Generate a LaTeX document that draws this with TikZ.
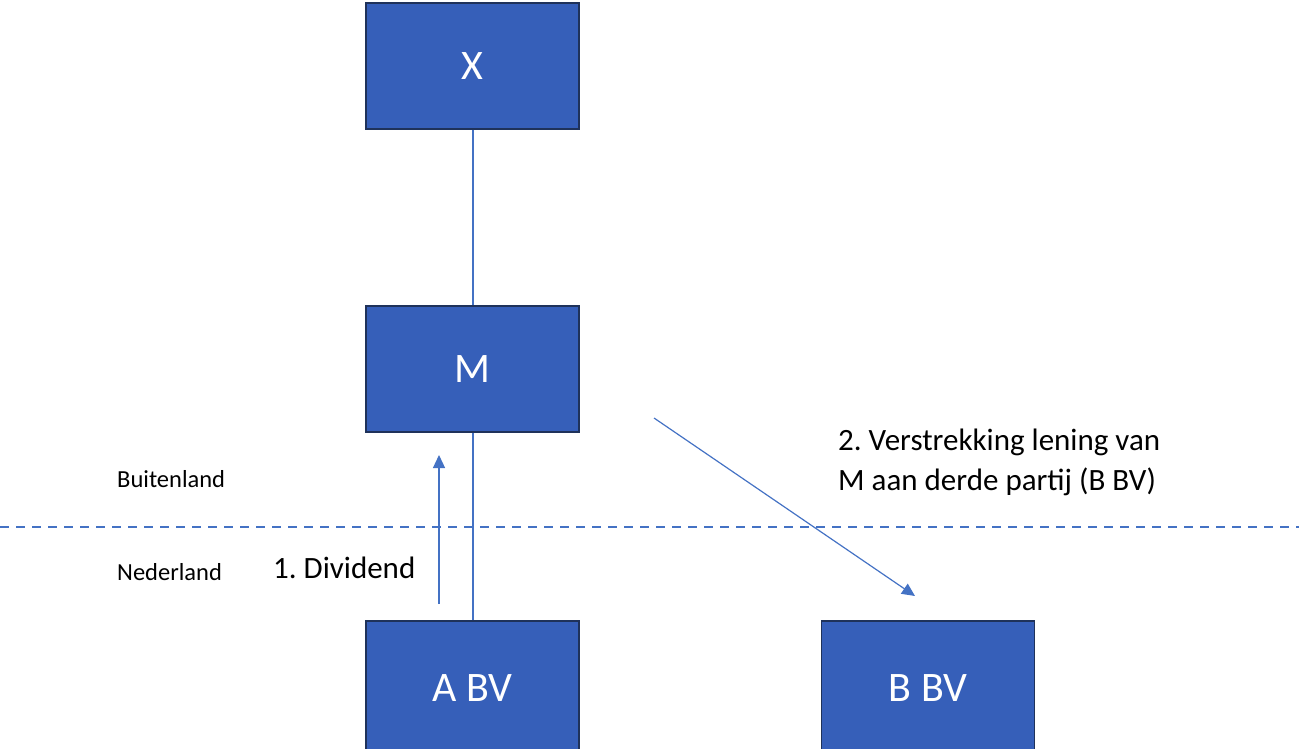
\documentclass[tikz,border=0pt]{standalone}
\usepackage{fontspec}
\setmainfont{Carlito}
\usetikzlibrary{arrows.meta}
\definecolor{boxfill}{RGB}{54,95,185}
\definecolor{boxedge}{RGB}{31,50,90}
\definecolor{linecol}{RGB}{68,114,196}
\frenchspacing
\begin{document}
\begin{tikzpicture}[x=1pt,y=-1pt,
  entity/.style={draw=boxedge,line width=1.5pt,fill=boxfill,text=white,minimum width=213pt,minimum height=126pt,inner sep=0pt,font=\fontsize{42}{46}\selectfont},
  conn/.style={draw=linecol,line width=1.2pt},
  arr/.style={draw=linecol,line width=1.2pt,-{Triangle[length=13pt,width=12pt]}},
  lbl/.style={font=\fontsize{31}{40}\selectfont,align=left,inner sep=0pt,anchor=west},
  small/.style={font=\fontsize{24.5}{28}\selectfont,inner sep=0pt,anchor=west}]
\useasboundingbox (0,0) rectangle (1299,749);
\node[entity] (X) at (472.5,66) {X};
\node[entity] (M) at (472.5,369) {M};
\node[entity,minimum height=140pt] (A) at (472.5,691) {\raisebox{6pt}{A BV}};
\node[entity,minimum height=140pt] (B) at (928,691) {\raisebox{6pt}{B BV}};
\draw[conn] (X.south -| 473,0) -- (M.north -| 473,0);
\draw[conn] (M.south -| 473,0) -- (A.north -| 473,0);
\coordinate (d1) at (439,604);
\coordinate (d2) at (439,455);
\draw[arr] (d1) -- (d2);
\coordinate (l1) at (654,418);
\coordinate (l2) at (915,596);
\draw[arr] (l1) -- (l2);
\coordinate (b1) at (0,527);
\coordinate (b2) at (1299,527);
\draw[draw=linecol,line width=1.5pt,dash pattern=on 9pt off 7pt] (b1) -- (b2);
\node[lbl] (t2) at (838,462) {2. Verstrekking lening van\\M aan derde partij (B BV)};
\node[lbl] (t1) at (273,568) {1. Dividend};
\node[small] (bu) at (117,479) {Buitenland};
\node[small] (ne) at (117,572) {Nederland};
\end{tikzpicture}
\end{document}
